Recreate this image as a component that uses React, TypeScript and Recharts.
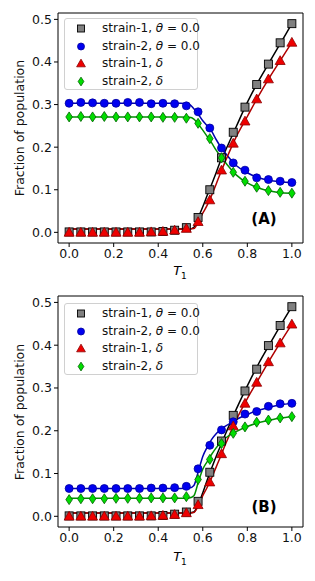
import React from "react";
import {
  ComposedChart,
  Scatter,
  Line,
  XAxis,
  YAxis,
  ReferenceArea,
} from "recharts";

// T1 sample points (20 of them, step 1/19)
const xs = [
  0, 0.0526, 0.1053, 0.1579, 0.2105, 0.2632, 0.3158, 0.3684, 0.4211, 0.4737,
  0.5263, 0.5789, 0.6316, 0.6842, 0.7368, 0.7895, 0.8421, 0.8947, 0.9474, 1.0,
];

// panel A markers
const sqA = [0.001, 0.001, 0.001, 0.001, 0.001, 0.001, 0.001, 0.001, 0.002, 0.005, 0.011, 0.035, 0.1, 0.175, 0.235, 0.294, 0.347, 0.395, 0.445, 0.49];
const cirA = [0.303, 0.305, 0.304, 0.303, 0.303, 0.305, 0.305, 0.302, 0.303, 0.302, 0.297, 0.283, 0.245, 0.198, 0.163, 0.146, 0.128, 0.124, 0.12, 0.117];
const triA = [0, 0, 0, 0, 0, 0, 0, 0.001, 0.002, 0.005, 0.009, 0.025, 0.076, 0.146, 0.209, 0.261, 0.313, 0.36, 0.403, 0.446];
const diaA = [0.271, 0.272, 0.271, 0.272, 0.271, 0.271, 0.271, 0.271, 0.27, 0.27, 0.268, 0.256, 0.22, 0.175, 0.141, 0.12, 0.106, 0.098, 0.094, 0.092];

// panel B markers
const sqB = [0.001, 0.001, 0.001, 0.001, 0.001, 0.001, 0.001, 0.001, 0.002, 0.005, 0.01, 0.035, 0.103, 0.176, 0.236, 0.293, 0.344, 0.399, 0.446, 0.49];
const cirB = [0.065, 0.065, 0.065, 0.065, 0.065, 0.065, 0.065, 0.066, 0.066, 0.067, 0.07, 0.111, 0.166, 0.202, 0.221, 0.239, 0.245, 0.257, 0.263, 0.264];
const triB = [0, 0, 0, 0, 0, 0, 0, 0.001, 0.002, 0.004, 0.008, 0.027, 0.08, 0.146, 0.211, 0.264, 0.313, 0.361, 0.405, 0.449];
const diaB = [0.039, 0.041, 0.041, 0.041, 0.042, 0.042, 0.042, 0.043, 0.043, 0.043, 0.046, 0.086, 0.133, 0.17, 0.194, 0.209, 0.22, 0.225, 0.23, 0.233];

// fitted curves
const fitX = [0, 0.5, 0.54, 0.56, 0.58, 0.6, 0.62, 0.64, 0.66, 0.68, 0.7, 0.75, 0.8, 0.85, 0.9, 0.95, 1.0];
const fit1A = [0.008, 0.008, 0.008, 0.012, 0.035, 0.06, 0.087, 0.113, 0.14, 0.168, 0.19, 0.248, 0.305, 0.355, 0.4, 0.445, 0.49];
const fit2A = [0.303, 0.303, 0.3, 0.29, 0.277, 0.262, 0.25, 0.237, 0.218, 0.201, 0.187, 0.157, 0.14, 0.128, 0.122, 0.119, 0.117];
const fit3A = [0.008, 0.008, 0.008, 0.009, 0.025, 0.045, 0.064, 0.087, 0.113, 0.14, 0.165, 0.224, 0.272, 0.32, 0.364, 0.405, 0.446];
const fit4A = [0.271, 0.271, 0.27, 0.266, 0.254, 0.24, 0.225, 0.21, 0.193, 0.178, 0.165, 0.135, 0.116, 0.104, 0.097, 0.093, 0.092];

const fit1B = [0.008, 0.008, 0.008, 0.01, 0.028, 0.055, 0.085, 0.113, 0.14, 0.165, 0.19, 0.25, 0.305, 0.356, 0.402, 0.447, 0.49];
const fit2B = [0.065, 0.065, 0.066, 0.072, 0.105, 0.14, 0.162, 0.18, 0.193, 0.203, 0.21, 0.226, 0.238, 0.248, 0.255, 0.261, 0.264];
const fit3B = [0.008, 0.008, 0.008, 0.009, 0.025, 0.048, 0.068, 0.09, 0.115, 0.14, 0.166, 0.225, 0.275, 0.32, 0.365, 0.408, 0.449];
const fit4B = [0.042, 0.042, 0.043, 0.048, 0.08, 0.11, 0.128, 0.145, 0.16, 0.172, 0.182, 0.198, 0.21, 0.219, 0.225, 0.23, 0.233];

const xTicks = [0, 0.2, 0.4, 0.6, 0.8, 1.0];
const yTicks = [0, 0.1, 0.2, 0.3, 0.4, 0.5];

const FONT = "'DejaVu Sans', sans-serif";
const tickStyle = { fontFamily: FONT, fontSize: 12.5, fill: "#111" };

const pts = (x: number[], y: number[]) => x.map((v, i) => ({ x: v, y: y[i] }));

const Square = (p: any) => {
  const s = p.s || 8;
  return <rect x={p.cx - s / 2} y={p.cy - s / 2} width={s} height={s} fill="#808080" stroke="#000" strokeWidth={0.9} />;
};
const Dot = (p: any) => (
  <circle cx={p.cx} cy={p.cy} r={(p.s || 8) / 2} fill="#0000f0" stroke="#00009a" strokeWidth={0.8} />
);
const Tri = (p: any) => {
  const h = (p.s || 8) / 8;
  return (
    <polygon
      points={`${p.cx},${p.cy - 5 * h} ${p.cx + 5 * h},${p.cy + 3.8 * h} ${p.cx - 5 * h},${p.cy + 3.8 * h}`}
      fill="#ee0000"
      stroke="#8b0000"
      strokeWidth={0.8}
    />
  );
};
const Dia = (p: any) => {
  const h = (p.s || 8) / 8;
  return (
    <polygon
      points={`${p.cx},${p.cy - 5 * h} ${p.cx + 3.3 * h},${p.cy} ${p.cx},${p.cy + 5 * h} ${p.cx - 3.3 * h},${p.cy}`}
      fill="#00dd00"
      stroke="#006000"
      strokeWidth={0.8}
    />
  );
};

const legendRows = [
  { label: "strain-1, ", math: "θ", rest: " = 0.0", Shape: Square },
  { label: "strain-2, ", math: "θ", rest: " = 0.0", Shape: Dot },
  { label: "strain-1, ", math: "δ", rest: "", Shape: Tri },
  { label: "strain-2, ", math: "δ", rest: "", Shape: Dia },
];

function Panel(props: any) {
  const { top, height, mTop, axisH, sq, cir, tri, dia, f1, f2, f3, f4, tag, legTop, tagY, ylabY, xlabY } = props;
  return (
    <div style={{ position: "absolute", left: 0, top, width: 315, height }}>
      <ComposedChart width={315} height={height} margin={{ top: mTop, right: 12, bottom: 0, left: 0 }}>
        <XAxis
          type="number"
          dataKey="x"
          domain={[-0.05, 1.05]}
          ticks={xTicks}
          tickFormatter={(v) => v.toFixed(1)}
          axisLine={false}
          tickSize={4}
          tick={tickStyle}
          stroke="#000"
          height={axisH}
          allowDataOverflow
        />
        <YAxis
          type="number"
          dataKey="y"
          domain={[-0.025, 0.515]}
          ticks={yTicks}
          tickFormatter={(v) => v.toFixed(1)}
          axisLine={false}
          tickSize={4}
          tick={tickStyle}
          stroke="#000"
          width={58}
          allowDataOverflow
        />
        <ReferenceArea x1={-0.05} x2={1.05} y1={-0.025} y2={0.515} fill="none" stroke="#000" strokeWidth={1} />
        <Scatter data={pts(xs, sq)} shape={Square} isAnimationActive={false} />
        <Scatter data={pts(xs, cir)} shape={Dot} isAnimationActive={false} />
        <Scatter data={pts(xs, tri)} shape={Tri} isAnimationActive={false} />
        <Scatter data={pts(xs, dia)} shape={Dia} isAnimationActive={false} />
        <Line data={pts(fitX, f1)} dataKey="y" type="monotone" stroke="#000" strokeWidth={1.5} dot={false} isAnimationActive={false} />
        <Line data={pts(fitX, f2)} dataKey="y" type="monotone" stroke="#0000b0" strokeWidth={1.5} dot={false} isAnimationActive={false} />
        <Line data={pts(fitX, f3)} dataKey="y" type="monotone" stroke="#b00000" strokeWidth={1.5} dot={false} isAnimationActive={false} />
        <Line data={pts(fitX, f4)} dataKey="y" type="monotone" stroke="#009000" strokeWidth={1.5} dot={false} isAnimationActive={false} />
      </ComposedChart>

      {/* legend */}
      <div
        style={{
          position: "absolute",
          left: 64,
          top: legTop - top,
          width: 134,
          height: 72,
          border: "1px solid #d0d0d0",
          borderRadius: 3,
          background: "rgba(255,255,255,0.85)",
          boxSizing: "border-box",
          fontFamily: FONT,
          fontSize: 12,
          color: "#111",
        }}
      >
        {legendRows.map((r, i) => (
          <div key={i} style={{ position: "absolute", left: 0, top: 1 + i * 17.5, height: 17, width: 132 }}>
            <svg width={30} height={17} style={{ position: "absolute", left: 0, top: 0 }}>
              <r.Shape cx={16} cy={8.5} s={7} />
            </svg>
            <div style={{ position: "absolute", left: 37, top: 1, whiteSpace: "nowrap", lineHeight: "15px" }}>
              {r.label}
              <i>{r.math}</i>
              {r.rest}
            </div>
          </div>
        ))}
      </div>

      {/* panel tag */}
      <div
        style={{
          position: "absolute",
          left: 240,
          width: 48,
          textAlign: "center",
          top: tagY - top - 9,
          lineHeight: "18px",
          fontFamily: FONT,
          fontSize: 15,
          fontWeight: "bold",
        }}
      >
        {tag}
      </div>

      {/* y label */}
      <div
        style={{
          position: "absolute",
          left: 20 - 80,
          top: ylabY - top - 8,
          width: 160,
          lineHeight: "16px",
          textAlign: "center",
          transform: "rotate(-90deg)",
          fontFamily: FONT,
          fontSize: 12.5,
          whiteSpace: "nowrap",
          color: "#111",
        }}
      >
        Fraction of population
      </div>

      {/* x label */}
      <div
        style={{
          position: "absolute",
          left: 150,
          width: 60,
          textAlign: "center",
          top: xlabY - top - 9,
          lineHeight: "18px",
          fontFamily: FONT,
          fontSize: 13,
        }}
      >
        <i>T</i>
        <sub style={{ fontSize: 9 }}>1</sub>
      </div>
    </div>
  );
}

export default function App() {
  return (
    <div style={{ position: "absolute", left: 0, top: 0, width: 315, height: 581, background: "#fff" }}>
      <Panel
        top={0}
        height={290}
        mTop={13}
        axisH={47}
        sq={sqA}
        cir={cirA}
        tri={triA}
        dia={diaA}
        f1={fit1A}
        f2={fit2A}
        f3={fit3A}
        f4={fit4A}
        tag="(A)"
        legTop={18}
        tagY={219}
        ylabY={128}
        xlabY={271}
      />
      <Panel
        top={290}
        height={291}
        mTop={6}
        axisH={54}
        sq={sqB}
        cir={cirB}
        tri={triB}
        dia={diaB}
        f1={fit1B}
        f2={fit2B}
        f3={fit3B}
        f4={fit4B}
        tag="(B)"
        legTop={303}
        tagY={507}
        ylabY={412}
        xlabY={557}
      />
    </div>
  );
}
